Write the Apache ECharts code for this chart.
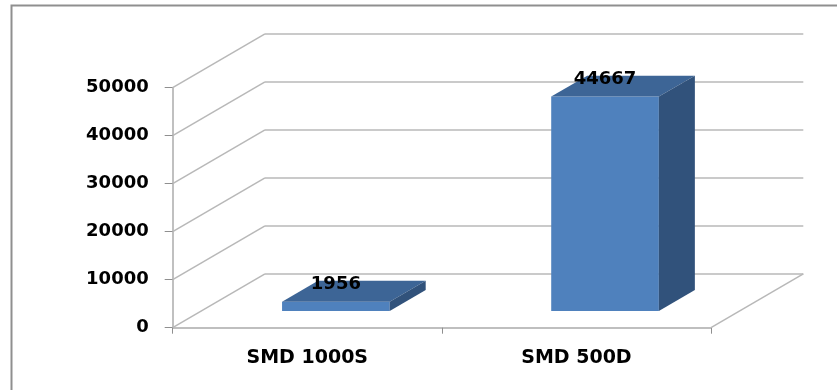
<!DOCTYPE html>
<html>
<head>
<meta charset="utf-8">
<script src="https://cdn.jsdelivr.net/npm/echarts@6/dist/echarts.min.js"></script>
<style>html,body{margin:0;padding:0;background:#fff;}#c{width:837px;height:390px;}</style>
</head>
<body>
<div id="c"></div>
<script>
var categories = ['SMD 1000S', 'SMD 500D'];
var values = [1956, 44667];
var yTicks = [0, 10000, 20000, 30000, 40000, 50000];

var DX = 92.3, DY = -53.8;       // depth of the 3D box in pixels
var F1 = 0.31, F2 = 0.70;         // bar front/back depth fractions
var BAR_W = 0.40;                 // bar width as fraction of band
var FONT = 'DejaVu Sans';

var chart = echarts.init(document.getElementById('c'));
chart.setOption({
  animation: false,
  backgroundColor: '#fff',
  graphic: [{
    type: 'polyline', silent: true, z: 0,
    shape: { points: [[11.5, 400], [11.5, 5.5], [850, 5.5]] },
    style: { fill: null, stroke: '#8f8f8f', lineWidth: 2 }
  }],
  grid: { left: 172.7, top: 87.7, right: 126, bottom: 62.3 },
  xAxis: {
    type: 'category', data: categories,
    axisLine: { show: true, lineStyle: { color: '#ababab', width: 1.5 } },
    axisTick: { show: true, length: 6, lineStyle: { color: '#8f8f8f' } },
    axisLabel: { color: '#000', fontFamily: FONT, fontWeight: 'bold', fontSize: 19, margin: 21 },
    splitLine: { show: false }
  },
  yAxis: {
    type: 'value', min: 0, max: 50000, interval: 10000,
    axisLine: { show: true, lineStyle: { color: '#ababab', width: 1.5 } },
    axisTick: { show: true, length: 8, lineStyle: { color: '#8f8f8f' } },
    axisLabel: { color: '#000', fontFamily: FONT, fontWeight: 'bold', fontSize: 18, margin: 24,
                 formatter: function (v) { return String(v); } },
    splitLine: { show: false }
  },
  series: [{
    type: 'custom', name: 'walls', silent: true, z: 1,
    data: yTicks.map(function (v) { return [0, v]; }),
    renderItem: function (params, api) {
      var cs = params.coordSys;
      var y = api.coord([0, api.value(1)])[1];
      var left = cs.x, right = cs.x + cs.width;
      var ls = { stroke: '#b8b8b8', lineWidth: 1.5, fill: null };
      var kids = [
        { type: 'line', shape: { x1: left, y1: y, x2: left + DX, y2: y + DY }, style: ls },
        { type: 'line', shape: { x1: left + DX, y1: y + DY, x2: right + DX, y2: y + DY }, style: ls }
      ];
      if (api.value(1) === 0) {
        kids.push({ type: 'line', shape: { x1: right, y1: y, x2: right + DX, y2: y + DY }, style: ls });
      }
      return { type: 'group', children: kids };
    }
  }, {
    type: 'custom', name: 'bars', z: 2,
    data: values.map(function (v, i) { return [i, v]; }),
    renderItem: function (params, api) {
      var i = api.value(0), v = api.value(1);
      var base = api.coord([i, 0]);
      var top = api.coord([i, v]);
      var band = api.size([1, 0])[0];
      var w = band * BAR_W;
      var ox = DX * F1, oy = DY * F1;
      var bx = DX * (F2 - F1), by = DY * (F2 - F1);
      var x0 = base[0] - w / 2 + ox, x1 = base[0] + w / 2 + ox;
      var yb = base[1] + oy, yt = top[1] + oy;
      return {
        type: 'group',
        children: [
          { type: 'polygon', shape: { points: [[x0, yb], [x1, yb], [x1, yt], [x0, yt]] },
            style: { fill: '#4f81bd' } },
          { type: 'polygon', shape: { points: [[x0, yt], [x1, yt], [x1 + bx, yt + by], [x0 + bx, yt + by]] },
            style: { fill: '#3d6596' } },
          { type: 'polygon', shape: { points: [[x1, yb], [x1 + bx, yb + by], [x1 + bx, yt + by], [x1, yt]] },
            style: { fill: '#31527b' } },
          { type: 'text', z2: 10,
            style: { x: (x0 + x1) / 2, y: yt + by + 4, text: String(v), align: 'center', verticalAlign: 'middle',
                     fill: '#000', font: 'bold 18px "DejaVu Sans"' } }
        ]
      };
    }
  }]
});
</script>
</body>
</html>
